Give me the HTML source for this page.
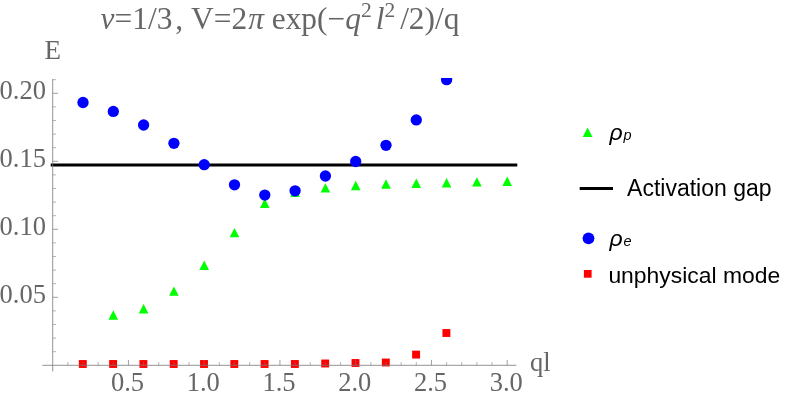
<!DOCTYPE html>
<html><head><meta charset="utf-8"><title>plot</title>
<style>
html,body{margin:0;padding:0;background:#fff;}
body{width:789px;height:405px;overflow:hidden;}
svg{display:block;will-change:transform;}
text{font-family:"Liberation Serif",serif;}
.s{font-family:"Liberation Sans",sans-serif;}
</style></head><body>
<svg width="789" height="405" viewBox="0 0 789 405">
<rect width="789" height="405" fill="#fff"/>
<defs><clipPath id="c"><rect x="42" y="78" width="476" height="294"/></clipPath></defs>

<g clip-path="url(#c)">
<polygon points="113.30,310.30 108.50,319.70 118.10,319.70" fill="#00ff00"/>
<polygon points="143.60,304.05 138.80,313.45 148.40,313.45" fill="#00ff00"/>
<polygon points="173.90,286.40 169.10,295.80 178.70,295.80" fill="#00ff00"/>
<polygon points="204.20,260.50 199.40,269.90 209.00,269.90" fill="#00ff00"/>
<polygon points="234.50,227.90 229.70,237.30 239.30,237.30" fill="#00ff00"/>
<polygon points="264.80,198.60 260.00,208.00 269.60,208.00" fill="#00ff00"/>
<polygon points="295.10,187.50 290.30,196.90 299.90,196.90" fill="#00ff00"/>
<polygon points="325.40,183.20 320.60,192.60 330.20,192.60" fill="#00ff00"/>
<polygon points="355.70,180.80 350.90,190.20 360.50,190.20" fill="#00ff00"/>
<polygon points="386.00,179.30 381.20,188.70 390.80,188.70" fill="#00ff00"/>
<polygon points="416.30,178.60 411.50,188.00 421.10,188.00" fill="#00ff00"/>
<polygon points="446.60,178.00 441.80,187.40 451.40,187.40" fill="#00ff00"/>
<polygon points="476.90,177.20 472.10,186.60 481.70,186.60" fill="#00ff00"/>
<polygon points="507.20,176.60 502.40,186.00 512.00,186.00" fill="#00ff00"/>
<line x1="50.7" y1="165.0" x2="517.3" y2="165.0" stroke="#000" stroke-width="3.2"/>
<circle cx="83.00" cy="102.50" r="5.65" fill="#0000ff"/>
<circle cx="113.30" cy="111.45" r="5.65" fill="#0000ff"/>
<circle cx="143.60" cy="125.00" r="5.65" fill="#0000ff"/>
<circle cx="173.90" cy="143.30" r="5.65" fill="#0000ff"/>
<circle cx="204.20" cy="164.70" r="5.65" fill="#0000ff"/>
<circle cx="234.50" cy="184.80" r="5.65" fill="#0000ff"/>
<circle cx="264.80" cy="195.10" r="5.65" fill="#0000ff"/>
<circle cx="295.10" cy="190.80" r="5.65" fill="#0000ff"/>
<circle cx="325.40" cy="176.00" r="5.65" fill="#0000ff"/>
<circle cx="355.70" cy="161.50" r="5.65" fill="#0000ff"/>
<circle cx="386.00" cy="145.30" r="5.65" fill="#0000ff"/>
<circle cx="416.30" cy="119.90" r="5.65" fill="#0000ff"/>
<circle cx="446.60" cy="79.70" r="5.65" fill="#0000ff"/>
<rect x="78.85" y="360.05" width="7.9" height="7.9" fill="#ff0000"/>
<rect x="109.15" y="360.05" width="7.9" height="7.9" fill="#ff0000"/>
<rect x="139.45" y="360.05" width="7.9" height="7.9" fill="#ff0000"/>
<rect x="169.75" y="360.05" width="7.9" height="7.9" fill="#ff0000"/>
<rect x="200.05" y="360.05" width="7.9" height="7.9" fill="#ff0000"/>
<rect x="230.35" y="360.05" width="7.9" height="7.9" fill="#ff0000"/>
<rect x="260.65" y="360.05" width="7.9" height="7.9" fill="#ff0000"/>
<rect x="290.95" y="360.05" width="7.9" height="7.9" fill="#ff0000"/>
<rect x="321.25" y="359.55" width="7.9" height="7.9" fill="#ff0000"/>
<rect x="351.55" y="359.05" width="7.9" height="7.9" fill="#ff0000"/>
<rect x="381.85" y="358.55" width="7.9" height="7.9" fill="#ff0000"/>
<rect x="412.15" y="350.65" width="7.9" height="7.9" fill="#ff0000"/>
<rect x="442.45" y="329.05" width="7.9" height="7.9" fill="#ff0000"/>
</g>
<g stroke="#777777" stroke-width="0.8" fill="none">
<line x1="42.4" y1="365.3" x2="516.3" y2="365.3"/>
<line x1="52.7" y1="79" x2="52.7" y2="371.4"/>
<line x1="67.85" y1="365.3" x2="67.85" y2="362.00" stroke-width="0.55"/>
<line x1="83.00" y1="365.3" x2="83.00" y2="362.00" stroke-width="0.55"/>
<line x1="98.15" y1="365.3" x2="98.15" y2="362.00" stroke-width="0.55"/>
<line x1="113.30" y1="365.3" x2="113.30" y2="362.00" stroke-width="0.55"/>
<line x1="128.45" y1="365.3" x2="128.45" y2="359.90" stroke-width="0.7"/>
<line x1="143.60" y1="365.3" x2="143.60" y2="362.00" stroke-width="0.55"/>
<line x1="158.75" y1="365.3" x2="158.75" y2="362.00" stroke-width="0.55"/>
<line x1="173.90" y1="365.3" x2="173.90" y2="362.00" stroke-width="0.55"/>
<line x1="189.05" y1="365.3" x2="189.05" y2="362.00" stroke-width="0.55"/>
<line x1="204.20" y1="365.3" x2="204.20" y2="359.90" stroke-width="0.7"/>
<line x1="219.35" y1="365.3" x2="219.35" y2="362.00" stroke-width="0.55"/>
<line x1="234.50" y1="365.3" x2="234.50" y2="362.00" stroke-width="0.55"/>
<line x1="249.65" y1="365.3" x2="249.65" y2="362.00" stroke-width="0.55"/>
<line x1="264.80" y1="365.3" x2="264.80" y2="362.00" stroke-width="0.55"/>
<line x1="279.95" y1="365.3" x2="279.95" y2="359.90" stroke-width="0.7"/>
<line x1="295.10" y1="365.3" x2="295.10" y2="362.00" stroke-width="0.55"/>
<line x1="310.25" y1="365.3" x2="310.25" y2="362.00" stroke-width="0.55"/>
<line x1="325.40" y1="365.3" x2="325.40" y2="362.00" stroke-width="0.55"/>
<line x1="340.55" y1="365.3" x2="340.55" y2="362.00" stroke-width="0.55"/>
<line x1="355.70" y1="365.3" x2="355.70" y2="359.90" stroke-width="0.7"/>
<line x1="370.85" y1="365.3" x2="370.85" y2="362.00" stroke-width="0.55"/>
<line x1="386.00" y1="365.3" x2="386.00" y2="362.00" stroke-width="0.55"/>
<line x1="401.15" y1="365.3" x2="401.15" y2="362.00" stroke-width="0.55"/>
<line x1="416.30" y1="365.3" x2="416.30" y2="362.00" stroke-width="0.55"/>
<line x1="431.45" y1="365.3" x2="431.45" y2="359.90" stroke-width="0.7"/>
<line x1="446.60" y1="365.3" x2="446.60" y2="362.00" stroke-width="0.55"/>
<line x1="461.75" y1="365.3" x2="461.75" y2="362.00" stroke-width="0.55"/>
<line x1="476.90" y1="365.3" x2="476.90" y2="362.00" stroke-width="0.55"/>
<line x1="492.05" y1="365.3" x2="492.05" y2="362.00" stroke-width="0.55"/>
<line x1="507.20" y1="365.3" x2="507.20" y2="359.90" stroke-width="0.7"/>
<line x1="52.7" y1="351.70" x2="56.00" y2="351.70" stroke-width="0.55"/>
<line x1="52.7" y1="338.10" x2="56.00" y2="338.10" stroke-width="0.55"/>
<line x1="52.7" y1="324.50" x2="56.00" y2="324.50" stroke-width="0.55"/>
<line x1="52.7" y1="310.90" x2="56.00" y2="310.90" stroke-width="0.55"/>
<line x1="52.7" y1="297.30" x2="58.10" y2="297.30" stroke-width="0.7"/>
<line x1="52.7" y1="283.70" x2="56.00" y2="283.70" stroke-width="0.55"/>
<line x1="52.7" y1="270.10" x2="56.00" y2="270.10" stroke-width="0.55"/>
<line x1="52.7" y1="256.50" x2="56.00" y2="256.50" stroke-width="0.55"/>
<line x1="52.7" y1="242.90" x2="56.00" y2="242.90" stroke-width="0.55"/>
<line x1="52.7" y1="229.30" x2="58.10" y2="229.30" stroke-width="0.7"/>
<line x1="52.7" y1="215.70" x2="56.00" y2="215.70" stroke-width="0.55"/>
<line x1="52.7" y1="202.10" x2="56.00" y2="202.10" stroke-width="0.55"/>
<line x1="52.7" y1="188.50" x2="56.00" y2="188.50" stroke-width="0.55"/>
<line x1="52.7" y1="174.90" x2="56.00" y2="174.90" stroke-width="0.55"/>
<line x1="52.7" y1="161.30" x2="58.10" y2="161.30" stroke-width="0.7"/>
<line x1="52.7" y1="147.70" x2="56.00" y2="147.70" stroke-width="0.55"/>
<line x1="52.7" y1="134.10" x2="56.00" y2="134.10" stroke-width="0.55"/>
<line x1="52.7" y1="120.50" x2="56.00" y2="120.50" stroke-width="0.55"/>
<line x1="52.7" y1="106.90" x2="56.00" y2="106.90" stroke-width="0.55"/>
<line x1="52.7" y1="93.30" x2="58.10" y2="93.30" stroke-width="0.7"/>
<line x1="52.7" y1="79.70" x2="56.00" y2="79.70" stroke-width="0.55"/>
</g>
<g fill="#666666" font-size="26.5px">
<text x="127.55" y="390.7" text-anchor="middle">0.5</text>
<text x="203.30" y="390.7" text-anchor="middle">1.0</text>
<text x="279.05" y="390.7" text-anchor="middle">1.5</text>
<text x="354.80" y="390.7" text-anchor="middle">2.0</text>
<text x="430.55" y="390.7" text-anchor="middle">2.5</text>
<text x="506.30" y="390.7" text-anchor="middle">3.0</text>
<text x="45.9" y="303.10" text-anchor="end">0.05</text>
<text x="45.9" y="235.10" text-anchor="end">0.10</text>
<text x="45.9" y="167.10" text-anchor="end">0.15</text>
<text x="45.9" y="99.10" text-anchor="end">0.20</text>
<text x="44.6" y="58.5" font-size="27px">E</text>
<text x="530.0" y="370.8">ql</text>
</g>
<text x="100.6" y="28.7" font-size="31.4px" fill="#666666"><tspan font-style="italic">ν</tspan>=1/3<tspan dx="3">,</tspan> V=2<tspan font-style="italic" dx="1">π</tspan> exp(−<tspan font-style="italic">q</tspan><tspan font-size="21.5px" dy="-12">2</tspan><tspan dy="12" dx="4" font-style="italic">l</tspan><tspan font-size="21.5px" dy="-12">2</tspan><tspan dy="12" dx="5">/2)/q</tspan></text>
<polygon points="587.6,127.5 582.7,136.9 592.5,136.9" fill="#00ff00"/>
<text class="s" x="609.6" y="140.2" font-size="23px" font-style="italic" fill="#000">ρ<tspan font-size="14.5px" dx="0.8">p</tspan></text>
<line x1="579.7" y1="188.5" x2="613" y2="188.5" stroke="#000" stroke-width="3"/>
<text class="s" x="627.1" y="196.3" font-size="23px" fill="#000">Activation gap</text>
<circle cx="588.5" cy="238.3" r="5.9" fill="#0000ff"/>
<text class="s" x="609.6" y="246.3" font-size="23px" font-style="italic" fill="#000">ρ<tspan font-size="14.5px" dx="0.8">e</tspan></text>
<rect x="583.9" y="270" width="7.7" height="7.7" fill="#ff0000"/>
<text class="s" x="608.4" y="283.4" font-size="22.9px" fill="#000">unphysical mode</text>
</svg></body></html>
